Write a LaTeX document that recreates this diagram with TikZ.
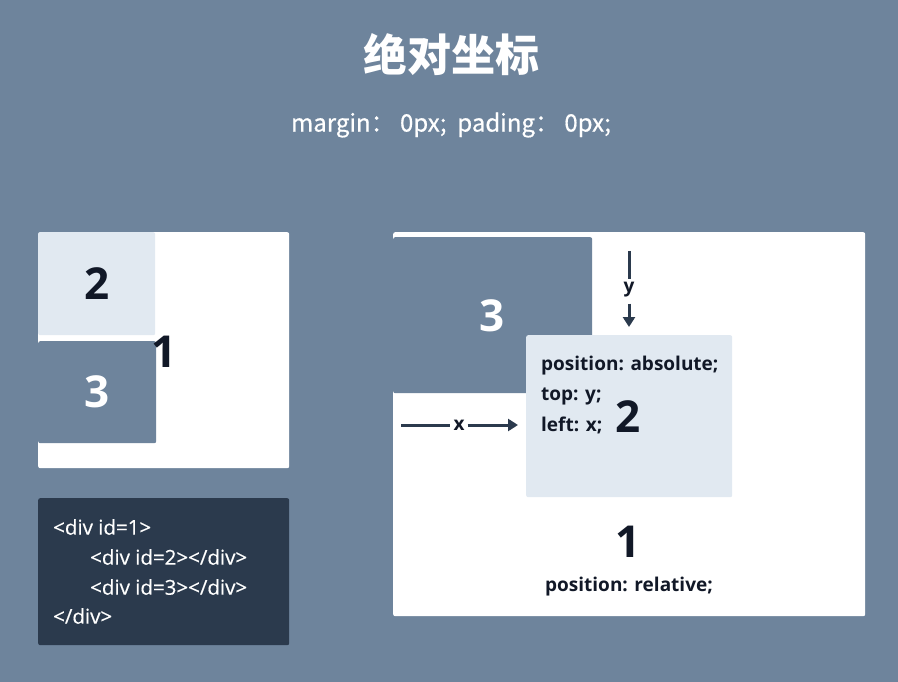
\documentclass[tikz,border=0pt]{standalone}
\usepackage{fontspec}
\setmainfont{Open Sans}
\newfontfamily\codefont[FakeBold=0.4]{Open Sans}
\newfontfamily\cjk{Noto Sans CJK SC}
\newfontfamily\cjkmid[FakeBold=0.6]{Noto Sans CJK SC}
\usetikzlibrary{positioning,arrows.meta}
\definecolor{slate}{HTML}{6E849C}
\definecolor{pale}{HTML}{E1E9F1}
\definecolor{night}{HTML}{2B3A4D}
\definecolor{ink}{HTML}{111827}
\tikzset{
  panel/.style={fill=white, rounded corners=2pt, inner sep=0pt, anchor=north west},
  block/.style={rounded corners=2pt, inner sep=0pt, anchor=north west},
  bignum/.style={font=\bfseries\fontsize{44}{44}\selectfont, text=ink, inner sep=0pt},
  rule/.style={font=\bfseries\fontsize{19}{19}\selectfont, text=ink, inner sep=0pt},
  codeline/.style={font=\codefont\fontsize{20.5}{20.5}\selectfont, text=white, inner sep=0pt, anchor=west},
  axis/.style={draw=night, line width=3pt},
  axistip/.style={axis, -{Triangle[length=10pt,width=12pt]}}
}
\begin{document}
\begin{tikzpicture}[x=1pt,y=-1pt]
  \fill[slate] (0,0) rectangle (898,682);
  \useasboundingbox (0,0) rectangle (898,682);
  % title
  \node[text=white, font=\cjk\bfseries\fontsize{44}{44}\selectfont] (title) at (451,55) {绝对坐标};
  \node[text=white, font=\cjkmid\fontsize{24}{24}\selectfont] (subtitle) at (451,125) {margin：\ 0px;\ \ pading：\ 0px;};
  % left: boxes
  \node[panel, minimum width=251pt, minimum height=236pt] (outerL) at (38,232) {};
  \node[block, fill=pale, minimum width=117pt, minimum height=103pt] (twoL) at (38,232) {};
  \node[block, fill=slate, minimum width=118pt, minimum height=102pt] (threeL) at (38,341) {};
  \node[bignum] at (twoL.center) {2};
  \node[bignum, text=white] at (threeL.center) {3};
  \node[bignum] (oneL) at (164,352) {1};
  % left: code
  \node[block, fill=night, minimum width=251pt, minimum height=147pt] (code) at (38,498) {};
  \node[codeline] (c1) at (53,527) {<div id=1>};
  \node[codeline] (c2) at (90,557) {<div id=2></div>};
  \node[codeline] (c3) at (90,587) {<div id=3></div>};
  \node[codeline] (c4) at (53,616) {</div>};
  % right: boxes
  \node[panel, minimum width=472pt, minimum height=384pt] (outerR) at (393,232) {};
  \node[block, fill=slate, minimum width=199pt, minimum height=156pt] (threeR) at (393,237) {};
  \node[bignum, text=white] at (492,316) {3};
  \node[block, fill=pale, minimum width=206pt, minimum height=162pt] (twoR) at (526,335) {};
  \node[rule, anchor=west] (abs) at (541,366) {position: absolute;};
  \node[rule, anchor=west] (top) at (541,396) {top: y;};
  \node[rule, anchor=west] (left) at (541,425) {left: x;};
  \node[bignum] (twoNum) at (628,417) {2};
  \node[bignum] (oneR) at (628,542) {1};
  \node[rule] (rel) at (629,587) {position: relative;};
  % offsets
  \node[rule] (ylab) at (629,290) {y};
  \coordinate (ytop) at (629,251);
  \coordinate (yend) at (629,327);
  \draw[axis] (ytop) -- ([yshift=3pt]ylab.north);
  \draw[axistip] ([yshift=-6pt]ylab.south) -- (yend);
  \node[rule] (xlab) at (459,425) {x};
  \coordinate (xstart) at (401,425);
  \coordinate (xend) at (518,425);
  \draw[axis] (xstart) -- ([xshift=-3pt]xlab.west);
  \draw[axistip] ([xshift=3pt]xlab.east) -- (xend);
\end{tikzpicture}
\end{document}
